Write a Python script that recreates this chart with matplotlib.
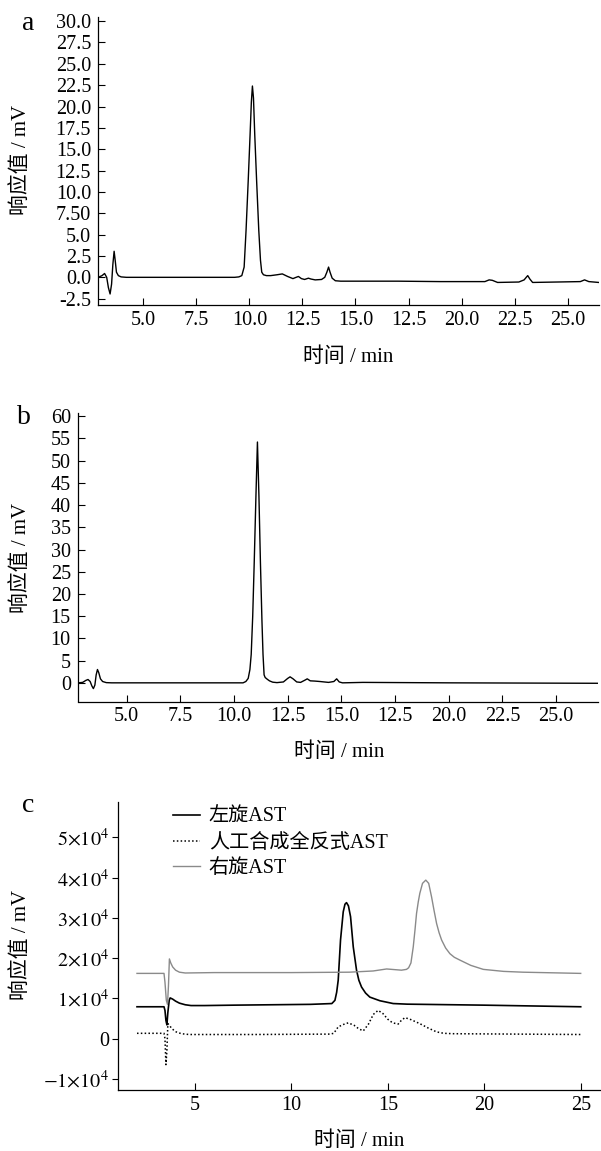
import matplotlib
matplotlib.use("Agg")
import matplotlib.pyplot as plt

plt.rcParams['font.family'] = ['Liberation Serif', 'Noto Sans CJK SC', 'DejaVu Serif']
plt.rcParams['mathtext.fontset'] = 'stix'

# ---------------- data ----------------
# Panel a
t_a = [2.87, 3.05, 3.17, 3.27, 3.35, 3.43, 3.50, 3.56, 3.62, 3.67, 3.73, 3.82, 3.95, 4.2,
       6.0, 8.0, 9.3, 9.5, 9.64, 9.75, 9.84, 9.94, 10.03, 10.09, 10.14, 10.19, 10.25, 10.34,
       10.44, 10.52, 10.58, 10.66, 10.8, 11.0, 11.3, 11.55, 11.8, 12.05, 12.2, 12.31, 12.45,
       12.6, 12.78, 12.9, 13.1, 13.4, 13.55, 13.65, 13.73, 13.8, 13.9, 14.05, 14.3, 17.0,
       19.0, 21.1, 21.3, 21.45, 21.7, 22.7, 22.95, 23.05, 23.12, 23.22, 23.35, 25.6, 25.8,
       26.0, 26.47]
v_a = [0.0, 0.2, 0.45, 0.0, -1.2, -1.95, -0.8, 1.5, 3.05, 2.0, 0.6, 0.2, 0.05, 0.0,
       0.0, 0.0, 0.0, 0.05, 0.2, 1.2, 5.5, 11.2, 16.7, 20.5, 22.4, 21.0, 16.7, 11.2,
       5.5, 2.0, 0.6, 0.3, 0.2, 0.2, 0.3, 0.4, 0.1, -0.15, 0.0, 0.1, -0.15,
       -0.25, -0.1, -0.2, -0.3, -0.25, 0.0, 0.6, 1.2, 0.6, -0.1, -0.4, -0.45, -0.45,
       -0.5, -0.5, -0.3, -0.35, -0.6, -0.55, -0.3, 0.0, 0.2, -0.2, -0.6, -0.5, -0.3,
       -0.5, -0.6]

# Panel b
t_b = [2.75, 2.95, 3.1, 3.2, 3.3, 3.38, 3.45, 3.52, 3.58, 3.64, 3.70, 3.78, 3.88, 4.05, 4.3,
       7.0, 10.42, 10.55, 10.66, 10.74, 10.80, 10.87, 10.94, 11.02, 11.09, 11.16, 11.23,
       11.30, 11.35, 11.40, 11.45, 11.55, 11.65, 11.8, 12.0, 12.3, 12.5, 12.61, 12.75, 12.92,
       13.1, 13.3, 13.41, 13.55, 13.75, 14.0, 14.4, 14.65, 14.78, 14.9, 15.05, 16.0, 20.0,
       26.95]
v_b = [0.0, 0.1, 0.55, 0.75, 0.3, -0.7, -1.3, -0.5, 1.8, 3.0, 2.3, 0.9, 0.3, 0.05, 0.0,
       0.0, 0.0, 0.3, 1.0, 3.0, 6.4, 15.0, 27.0, 42.0, 54.2, 42.0, 27.0,
       14.0, 6.4, 1.8, 1.2, 0.8, 0.45, 0.15, 0.05, 0.2, 1.0, 1.35, 0.9, 0.2,
       0.1, 0.6, 0.9, 0.45, 0.4, 0.3, 0.1, 0.3, 0.9, 0.2, 0.0, 0.1, 0.0,
       -0.1]

# Panel c
series_names = ['左旋AST', '人工合成全反式AST', '右旋AST']
t_left = [2.0, 3.40, 3.45, 3.50, 3.55, 3.60, 3.67, 3.72, 3.85, 4.0, 4.2, 4.5, 4.8, 5.5, 7.0,
          9.0, 11.0, 12.1, 12.26, 12.35, 12.43, 12.55, 12.69, 12.78, 12.86, 12.96, 13.07,
          13.21, 13.38, 13.5, 13.64, 13.85, 14.07, 14.59, 15.28, 16.0, 20.0, 25.0]
v_left = [7900, 7900, 7000, 4500, 3400, 6500, 9500, 10100, 9800, 9300, 8800, 8400, 8200, 8200, 8300,
          8400, 8500, 8700, 9500, 11500, 14500, 24500, 31500, 33400, 33800, 33000, 30300,
          22800, 17000, 14500, 12800, 11300, 10300, 9400, 8700, 8550, 8300, 7900]

t_syn = [2.0, 3.40, 3.45, 3.50, 3.55, 3.60, 3.68, 3.8, 4.0, 4.3, 4.7, 8.0, 12.0, 12.2, 12.43,
         12.7, 12.95, 13.25, 13.5, 13.73, 14.0, 14.25, 14.5, 14.75, 15.0, 15.25, 15.54, 15.7,
         15.89, 16.2, 16.66, 17.1, 17.53, 17.9, 18.39, 25.0]
v_syn = [1300, 1300, 0, -6500, -3000, 3700, 3300, 2500, 1700, 1200, 1000, 1000, 1100, 1300, 2900,
         3500, 3900, 3300, 2400, 1900, 3600, 6000, 7000, 6200, 4800, 3900, 3600, 4500,
         5200, 4700, 3700, 2600, 1650, 1300, 1200, 1000]

t_right = [2.0, 3.40, 3.45, 3.52, 3.58, 3.63, 3.68, 3.75, 3.85, 4.0, 4.2, 4.5, 6.0, 10.0, 13.0,
           14.24, 14.94, 15.71, 15.97, 16.08, 16.2, 16.32, 16.41, 16.49, 16.58, 16.66, 16.8,
           16.97, 17.12, 17.27, 17.4, 17.53, 17.66, 17.79, 18.0, 18.22, 18.45, 18.74, 19.3,
           19.95, 21.0, 22.0, 25.0]
v_right = [16200, 16200, 14000, 9500, 8500, 13000, 19800, 18800, 17800, 17000, 16500, 16300, 16400,
           16400, 16500, 16800, 17300, 17000, 17200, 17600, 18800, 22800, 27000, 31100, 34000,
           36100, 38600, 39400, 38600, 35200, 31800, 28600, 26300, 24500, 22500, 21100, 20200,
           19500, 18200, 17200, 16700, 16500, 16200]

xt_ab = [5.0, 7.5, 10.0, 12.5, 15.0, 17.5, 20.0, 22.5, 25.0]
xtl_ab = ['5.0', '7.5', '10.0', '12.5', '15.0', '12.5', '20.0', '22.5', '25.0']
yt_a = [-2.5, 0, 2.5, 5, 7.5, 10, 12.5, 15, 17.5, 20, 22.5, 25, 27.5, 30]
ytl_a = ['-2.5', '0.0', '2.5', '5.0', '7.50', '10.0', '12.5', '15.0', '17.5', '20.0',
         '22.5', '25.0', '27.5', '30.0']
yt_b = list(range(0, 61, 5))
ytl_b = [str(v) for v in yt_b]
xt_c = [5, 10, 15, 20, 25]
yt_c = [-10000, 0, 10000, 20000, 30000, 40000, 50000]
ytl_c = [r'$-1{\times}10^{4}$', '0', r'$1{\times}10^{4}$', r'$2{\times}10^{4}$',
         r'$3{\times}10^{4}$', r'$4{\times}10^{4}$', r'$5{\times}10^{4}$']

# ---------------- figure ----------------
W, H = 601, 1151
fig = plt.figure(figsize=(W / 100, H / 100), dpi=100)
FS = 14.5     # tick labels / legend
LFS = 15      # axis labels


def ax_px(left, right, top, bottom):
    return fig.add_axes([left / W, 1 - bottom / H, (right - left) / W, (bottom - top) / H])


def style(ax, ydir='in'):
    for s in ['top', 'right']:
        ax.spines[s].set_visible(False)
    for s in ['left', 'bottom']:
        ax.spines[s].set_linewidth(0.9)
    ax.tick_params(axis='x', direction='in', length=5, width=0.8, labelsize=FS, pad=4)
    ax.tick_params(axis='y', direction=ydir, length=5 if ydir == 'in' else 4.5, width=0.8,
                   labelsize=FS, pad=5 if ydir == 'in' else 1.5)


def ftext(x, y, s, **kw):
    fig.text(x / W, 1 - y / H, s, ha='center', va='center', **kw)


# Panel a
ax1 = ax_px(98, 599, 17, 305)
ax1.plot(t_a, v_a, color='black', lw=1.0)
ax1.set_xlim(2.86, 26.48)
ax1.set_ylim(-3.24, 30.48)
ax1.set_xticks(xt_ab)
ax1.set_xticklabels(xtl_ab)
ax1.set_yticks(yt_a)
ax1.set_yticklabels(ytl_a)
style(ax1)
ftext(28, 24, 'a', fontsize=20)
ftext(21, 160, '响应值 / mV', fontsize=LFS, rotation=90)
ftext(348, 357, '时间 / min', fontsize=LFS)

# Panel b
ax2 = ax_px(77.7, 598, 412.7, 701.5)
ax2.plot(t_b, v_b, color='black', lw=1.0)
ax2.set_xlim(2.72, 26.95)
ax2.set_ylim(-4.2, 60.8)
ax2.set_xticks(xt_ab)
ax2.set_xticklabels(xtl_ab)
ax2.set_yticks(yt_b)
ax2.set_yticklabels(ytl_b)
style(ax2)
ftext(24, 418, 'b', fontsize=20)
ftext(21, 558, '响应值 / mV', fontsize=LFS, rotation=90)
ftext(339, 752, '时间 / min', fontsize=LFS)

# Panel c
ax3 = ax_px(117.7, 600, 801.7, 1090)
ax3.plot(t_left, v_left, color='black', lw=1.2, label=series_names[0])
ax3.plot(t_syn, v_syn, color='black', lw=1.1, linestyle=(0, (1, 1.5)), label=series_names[1])
ax3.plot(t_right, v_right, color='#8a8a8a', lw=1.0, label=series_names[2])
ax3.set_xlim(1.0, 26.0)
ax3.set_ylim(-12800, 58900)
ax3.set_xticks(xt_c)
ax3.set_yticks(yt_c)
ax3.set_yticklabels(ytl_c)
style(ax3, ydir='out')
leg = ax3.legend(loc='upper left', bbox_to_anchor=(0.114, 0.978), frameon=False, fontsize=FS,
                 handlelength=1.34, handletextpad=0.45, labelspacing=0.32, borderpad=0,
                 borderaxespad=0)
ftext(28, 805, 'c', fontsize=20)
ftext(21, 945, '响应值 / mV', fontsize=LFS, rotation=90)
ftext(359, 1141, '时间 / min', fontsize=LFS)

fig.savefig('out.png', dpi=100)
